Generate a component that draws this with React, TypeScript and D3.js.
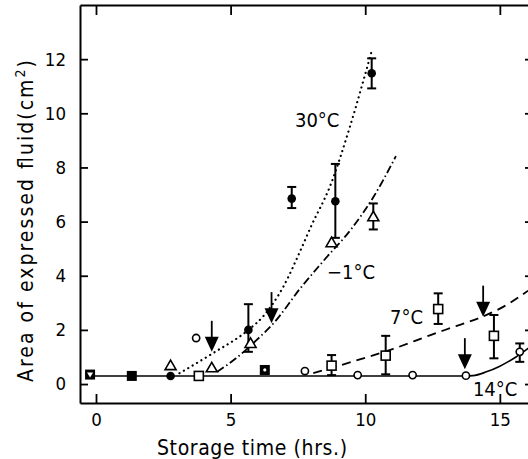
import React, { useRef, useEffect } from "react";
import * as d3 from "d3";

// axis ticks
const xTicks = [0, 5, 10, 15];
const yTicks = [0, 2, 4, 6, 8, 10, 12];

// 30°C - filled circles
const c30X = [2.77, 5.66, 7.27, 8.89, 10.24];
const c30Y = [0.3, 2.0, 6.85, 6.75, 11.48];
const c30Lo = [null, 1.19, 6.5, 5.4, 10.92];
const c30Hi = [null, 2.95, 7.28, 8.13, 12.03];

// -1°C - open triangles
const m1X = [2.77, 4.3, 5.74, 8.75, 10.3];
const m1Y = [0.68, 0.6, 1.5, 5.22, 6.18];
const m1Lo = [null, null, null, null, 5.71];
const m1Hi = [null, null, null, null, 6.67];

// 7°C - open squares
const c7X = [3.82, 8.75, 10.76, 12.71, 14.78];
const c7Y = [0.3, 0.68, 1.05, 2.77, 1.78];
const c7Lo = [null, 0.33, 0.36, 2.22, 0.95];
const c7Hi = [null, 1.07, 1.78, 3.35, 2.55];

// 14°C - open circles
const c14X = [3.72, 7.76, 9.72, 11.76, 13.74, 15.74];
const c14Y = [1.7, 0.48, 0.33, 0.33, 0.31, 1.19];
const c14Lo = [null, null, null, null, null, 0.82];
const c14Hi = [null, null, null, null, null, 1.5];

// overlapping markers at start (filled squares)
const overlapX = [-0.22, 1.33, 6.27];
const overlapY = [0.35, 0.3, 0.52];
const overlapInner = ["tri", "none", "dot"];

// fitted curves
const curve30X = [3.1, 4.36, 5.66, 6.21, 6.96, 7.58, 8.0, 8.69, 9.43, 9.93, 10.24];
const curve30Y = [0.4, 1.15, 2.0, 2.5, 3.6, 4.9, 5.85, 7.3, 9.5, 11.2, 12.3];
const curveM1X = [4.5, 5.2, 5.97, 6.6, 7.6, 8.45, 9.5, 10.3, 11.14];
const curveM1Y = [0.45, 0.95, 1.63, 2.25, 3.55, 4.55, 5.75, 6.9, 8.42];
const curve7X = [8.07, 9.1, 10.0, 11.04, 12.4, 13.4, 14.38, 15.3, 16.05];
const curve7Y = [0.4, 0.7, 0.97, 1.3, 1.8, 2.15, 2.5, 2.95, 3.45];
const curve14X = [-0.25, 13.74, 14.0, 14.5, 15.0, 15.6, 16.1];
const curve14Y = [0.3, 0.3, 0.31, 0.45, 0.66, 1.0, 1.35];

// arrows (x, tip value)
const arrowX = [4.3, 6.52, 13.7, 14.38];
const arrowTip = [1.19, 2.25, 0.55, 2.49];

// curve labels
const labelText = ["30°C", "−1°C", "7°C", "14°C"];
const labelX = [7.39, 8.58, 10.92, 14.0];
const labelY = [9.49, 3.88, 2.22, -0.43];

const FONT = "'Liberation Sans Narrow', 'DejaVu Sans Condensed', 'Liberation Sans', sans-serif";

const zip = (xs, ys) => xs.map((v, i) => [v, ys[i]]);

const Chart = () => {
    const ref = useRef(null);

    useEffect(() => {
        const svg = d3.select(ref.current);
        svg.selectAll("*").remove();

        const x = d3.scaleLinear().domain([-0.594, 16.12]).range([80, 530]);
        const y = d3.scaleLinear().domain([-0.7, 14]).range([403, 5]);

        const line = d3.line()
            .x(d => x(d[0]))
            .y(d => y(d[1]))
            .curve(d3.curveMonotoneX);

        // curves
        svg.append("path")
            .attr("d", line(zip(curve14X, curve14Y)))
            .attr("fill", "none").attr("stroke", "#000").attr("stroke-width", 1.6);
        svg.append("path")
            .attr("d", line(zip(curve30X, curve30Y)))
            .attr("fill", "none").attr("stroke", "#000").attr("stroke-width", 2.2)
            .attr("stroke-linecap", "round").attr("stroke-dasharray", "0.1 5");
        svg.append("path")
            .attr("d", line(zip(curveM1X, curveM1Y)))
            .attr("fill", "none").attr("stroke", "#000").attr("stroke-width", 1.8)
            .attr("stroke-dasharray", "8 3 1.5 3");
        svg.append("path")
            .attr("d", line(zip(curve7X, curve7Y)))
            .attr("fill", "none").attr("stroke", "#000").attr("stroke-width", 1.8)
            .attr("stroke-dasharray", "9 6");

        // error bars
        const errorBars = (xs, lo, hi) => {
            xs.forEach((v, i) => {
                if (lo[i] == null) return;
                const g = svg.append("g").attr("stroke", "#000").attr("stroke-width", 2);
                g.append("line").attr("x1", x(v)).attr("x2", x(v)).attr("y1", y(lo[i])).attr("y2", y(hi[i]));
                g.append("line").attr("x1", x(v) - 4.5).attr("x2", x(v) + 4.5).attr("y1", y(lo[i])).attr("y2", y(lo[i]));
                g.append("line").attr("x1", x(v) - 4.5).attr("x2", x(v) + 4.5).attr("y1", y(hi[i])).attr("y2", y(hi[i]));
            });
        };
        errorBars(c30X, c30Lo, c30Hi);
        errorBars(m1X, m1Lo, m1Hi);
        errorBars(c7X, c7Lo, c7Hi);
        errorBars(c14X, c14Lo, c14Hi);

        // overlapping markers
        overlapX.forEach((v, i) => {
            const cx = x(v), cy = y(overlapY[i]);
            svg.append("rect").attr("x", cx - 5).attr("y", cy - 5).attr("width", 10).attr("height", 10).attr("fill", "#000");
            if (overlapInner[i] === "tri") {
                svg.append("path").attr("d", `M${cx - 3},${cy - 2}L${cx + 3},${cy - 2}L${cx},${cy + 3}Z`).attr("fill", "#fff");
            } else if (overlapInner[i] === "dot") {
                svg.append("circle").attr("cx", cx).attr("cy", cy).attr("r", 1.6).attr("fill", "#fff");
            }
        });

        // 7°C squares
        c7X.forEach((v, i) => {
            svg.append("rect").attr("x", x(v) - 4.5).attr("y", y(c7Y[i]) - 4.5).attr("width", 9).attr("height", 9)
                .attr("fill", "#fff").attr("stroke", "#000").attr("stroke-width", 1.6);
        });
        // 14°C open circles
        c14X.forEach((v, i) => {
            svg.append("circle").attr("cx", x(v)).attr("cy", y(c14Y[i])).attr("r", 3.6)
                .attr("fill", "#fff").attr("stroke", "#000").attr("stroke-width", 1.6);
        });
        // -1°C triangles
        m1X.forEach((v, i) => {
            const cx = x(v), cy = y(m1Y[i]);
            svg.append("path").attr("d", `M${cx},${cy - 5.5}L${cx + 5.5},${cy + 4}L${cx - 5.5},${cy + 4}Z`)
                .attr("fill", "#fff").attr("stroke", "#000").attr("stroke-width", 1.6);
        });
        // 30°C filled circles
        c30X.forEach((v, i) => {
            svg.append("circle").attr("cx", x(v)).attr("cy", y(c30Y[i])).attr("r", 4.3).attr("fill", "#000");
        });

        // arrows
        arrowX.forEach((v, i) => {
            const tx = x(v), ty = y(arrowTip[i]);
            svg.append("line").attr("x1", tx).attr("x2", tx).attr("y1", ty - 31).attr("y2", ty - 10)
                .attr("stroke", "#000").attr("stroke-width", 1.8);
            svg.append("path").attr("d", `M${tx - 7},${ty - 15}L${tx + 7},${ty - 15}L${tx},${ty}Z`).attr("fill", "#000");
        });

        // curve labels
        labelText.forEach((t, i) => {
            svg.append("text").attr("x", x(labelX[i])).attr("y", y(labelY[i]))
                .attr("font-family", FONT).attr("font-size", 20).attr("fill", "#000").text(t);
        });

        // axes
        const styleAxis = g => {
            g.select(".domain").attr("stroke", "#000").attr("stroke-width", 2);
            g.selectAll(".tick line").attr("stroke", "#000").attr("stroke-width", 1.8);
            g.selectAll("text").attr("font-family", FONT).attr("font-size", 18.5).attr("fill", "#000");
        };
        svg.append("g").attr("transform", "translate(80,0)")
            .call(d3.axisLeft(y).tickValues(yTicks).tickSizeInner(-8).tickSizeOuter(0).tickPadding(14))
            .call(styleAxis);
        svg.append("g").attr("transform", "translate(0,403)")
            .call(d3.axisBottom(x).tickValues(xTicks).tickSizeInner(-9).tickSizeOuter(0).tickPadding(10))
            .call(styleAxis);
        svg.append("g").attr("transform", "translate(0,5)")
            .call(d3.axisTop(x).tickValues(xTicks).tickSizeInner(-10).tickSizeOuter(0).tickFormat(() => ""))
            .call(styleAxis);
        svg.append("g").attr("transform", "translate(530,0)")
            .call(d3.axisRight(y).tickValues(yTicks).tickSizeInner(-5).tickSizeOuter(0).tickFormat(() => ""))
            .call(styleAxis);

        // axis titles
        svg.append("text").attr("x", 157).attr("y", 455)
            .attr("font-family", FONT).attr("font-size", 21).attr("fill", "#000")
            .attr("textLength", 190).attr("lengthAdjust", "spacing")
            .text("Storage time (hrs.)");

        const yt = svg.append("text").attr("transform", "translate(33,221) rotate(-90)")
            .attr("text-anchor", "middle")
            .attr("font-family", FONT).attr("font-size", 21).attr("fill", "#000")
            .attr("textLength", 322).attr("lengthAdjust", "spacing");
        yt.append("tspan").text("Area  of  expressed  fluid(cm");
        yt.append("tspan").attr("dy", -8).attr("font-size", 14).text("2");
        yt.append("tspan").attr("dy", 8).text(")");
    }, []);

    return (
        <svg ref={ref} width={528} height={459} style={{ position: "absolute", left: 0, top: 0, background: "#fff" }}></svg>
    );
};

export default function App() {
    return <Chart />;
}
